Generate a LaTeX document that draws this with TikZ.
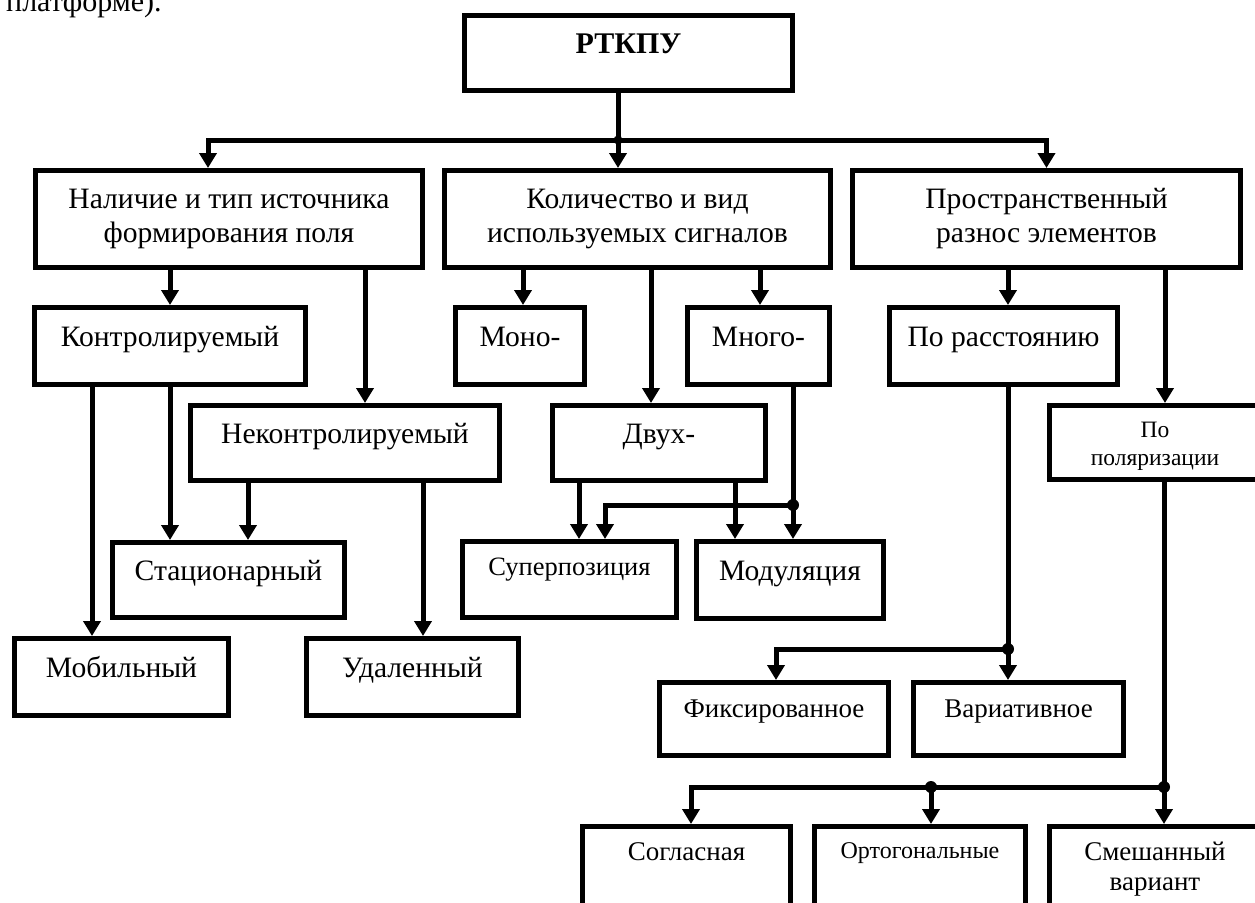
\documentclass[tikz,border=0pt]{standalone}
\usepackage{fontspec}
\setmainfont{Liberation Serif}
\usetikzlibrary{arrows.meta}
\newcommand\bt[2]{\raisebox{#1}[0pt][0pt]{\begin{tabular}[b]{@{}c@{}}#2\end{tabular}}}
\tikzset{
  box/.style={draw, line width=5pt, inner sep=0pt, font=\fontsize{29.6}{34}\selectfont},
  lowfont/.style={font=\fontsize{27}{30}\selectfont},
  conn/.style={line width=5pt},
  arr/.style={line width=5pt, -{Triangle[width=17pt,length=15pt]}},
  dot/.style={circle, fill, inner sep=0pt, minimum size=12pt},
}
\begin{document}
\begin{tikzpicture}[x=1pt,y=-1pt]
\useasboundingbox (0,0) rectangle (1255,902);
\clip (0,0) rectangle (1255,902);
\node[anchor=base west, inner sep=0pt, font=\fontsize{30}{34}\selectfont] (prev) at (6,11) {платформе).};
% boxes
\node[box, minimum width=328pt, minimum height=75pt, font=\fontsize{30}{34}\selectfont\bfseries] (root) at (628.5,53) {\bt{0pt}{РТКПУ}};
\node[box, minimum width=387pt, minimum height=97pt] (src) at (229,219) {\bt{-23pt}{Наличие и тип источника\\формирования поля}};
\node[box, minimum width=386pt, minimum height=97pt] (sig) at (637.5,219) {\bt{-23pt}{Количество и вид\\используемых сигналов}};
\node[box, minimum width=388pt, minimum height=97pt] (spc) at (1046.5,219) {\bt{-23pt}{Пространственный\\разнос элементов}};
\node[box, minimum width=271pt, minimum height=77pt] (ctrl) at (170,346) {\bt{0pt}{Контролируемый}};
\node[box, minimum width=309pt, minimum height=75pt] (unctrl) at (345,443) {\bt{0pt}{Неконтролируемый}};
\node[box, minimum width=232pt, minimum height=75pt] (stat) at (228.5,580) {\bt{0pt}{Стационарный}};
\node[box, minimum width=214pt, minimum height=77pt] (mob) at (121.5,677) {\bt{0pt}{Мобильный}};
\node[box, minimum width=212pt, minimum height=77pt] (rem) at (412.5,677) {\bt{0pt}{Удаленный}};
\node[box, minimum width=129pt, minimum height=77pt] (mono) at (520,346) {\bt{0pt}{Моно-}};
\node[box, minimum width=142pt, minimum height=77pt] (multi) at (758.5,346) {\bt{0pt}{Много-}};
\node[box, minimum width=213pt, minimum height=75pt] (two) at (659,443) {\bt{0pt}{Двух-}};
\node[box, font=\fontsize{26.5}{30}\selectfont, minimum width=214pt, minimum height=76pt] (sup) at (569.5,579.5) {\bt{4pt}{Суперпозиция}};
\node[box, minimum width=187pt, minimum height=77pt] (mod) at (790,580) {\bt{0pt}{Модуляция}};
\node[box, minimum width=228pt, minimum height=77pt] (dist) at (1003.5,346) {\bt{0pt}{По расстоянию}};
\node[box, font=\fontsize{23.5}{28}\selectfont, minimum width=211pt, minimum height=74pt] (pol) at (1155,442.5) {\bt{-22.5pt}{По\\поляризации}};
\node[box, lowfont, minimum width=229pt, minimum height=73pt] (fix) at (774,719) {\bt{2pt}{Фиксированное}};
\node[box, lowfont, minimum width=210pt, minimum height=73pt] (var) at (1018.5,719) {\bt{2pt}{Вариативное}};
\node[box, lowfont, minimum width=208pt, minimum height=81pt] (agr) at (686.5,867) {\bt{7pt}{Согласная}};
\node[box, font=\fontsize{24}{28}\selectfont, minimum width=211pt, minimum height=81pt] (orth) at (920,867) {\bt{9pt}{Ортогональные}};
\node[box, lowfont, minimum width=211pt, minimum height=81pt] (mix) at (1155,867) {\bt{-23pt}{Смешанный\\вариант}};
% junctions
\coordinate (j0) at (618,140);
\coordinate (j1) at (793,505);
\coordinate (j2) at (1008,649);
\coordinate (j3) at (1164,787);
\coordinate (j4) at (931,787);
% connectors
\draw[conn] (618,0 |- root.south) -- (j0);
\draw[arr] (j0) -| (208,0 |- src.north);
\draw[arr] (j0) -| (spc.north);
\draw[arr] (j0) -- (618,0 |- sig.north);
\draw[arr] (170,0 |- src.south) -- (170,0 |- ctrl.north);
\draw[arr] (365,0 |- src.south) -- (365,0 |- unctrl.north);
\draw[arr] (170,0 |- ctrl.south) -- (170,0 |- stat.north);
\draw[arr] (92,0 |- ctrl.south) -- (92,0 |- mob.north);
\draw[arr] (248,0 |- unctrl.south) -- (248,0 |- stat.north);
\draw[arr] (423,0 |- unctrl.south) -- (423,0 |- rem.north);
\draw[arr] (523,0 |- sig.south) -- (523,0 |- mono.north);
\draw[arr] (651,0 |- sig.south) -- (651,0 |- two.north);
\draw[arr] (760,0 |- sig.south) -- (760,0 |- multi.north);
\draw[arr] (579,0 |- two.south) -- (579,0 |- sup.north);
\draw[arr] (735,0 |- two.south) -- (735,0 |- mod.north);
\draw[arr] (793,0 |- multi.south) -- (793,0 |- mod.north);
\draw[arr] (j1) -| (605,0 |- sup.north);
\draw[arr] (1008,0 |- spc.south) -- (1008,0 |- dist.north);
\draw[arr] (1165,0 |- spc.south) -- (1165,0 |- pol.north);
\draw[arr] (1008,0 |- dist.south) -- (1008,0 |- var.north);
\draw[arr] (j2) -| (776,0 |- fix.north);
\draw[arr] (1164,0 |- pol.south) -- (1164,0 |- mix.north);
\draw[arr] (j3) -| (691,0 |- agr.north);
\draw[arr] (j4) -- (931,0 |- orth.north);
% dots
\node[dot, minimum size=9pt] (d0) at (j0) {};
\node[dot] (d1) at (j1) {};
\node[dot] (d2) at (j2) {};
\node[dot] (d3) at (j3) {};
\node[dot] (d4) at (j4) {};
\end{tikzpicture}
\end{document}
